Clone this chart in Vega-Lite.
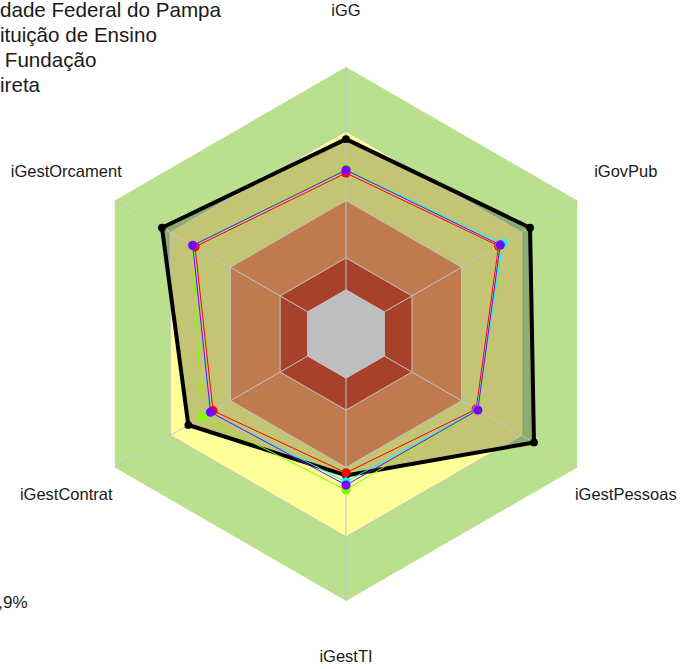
{
  "$schema": "https://vega.github.io/schema/vega-lite/v6.json",
  "width": 680,
  "height": 669,
  "autosize": {"type": "none"},
  "padding": 0,
  "background": "white",
  "config": {"view": {"stroke": null}, "text": {"font": "Liberation Sans"}},
  "datasets": {
    "eixos": [
      {"eixo": "iGG", "ordem": 0},
      {"eixo": "iGovPub", "ordem": 1},
      {"eixo": "iGestPessoas", "ordem": 2},
      {"eixo": "iGestTI", "ordem": 3},
      {"eixo": "iGestContrat", "ordem": 4},
      {"eixo": "iGestOrcament", "ordem": 5}
    ],
    "faixas": [
      {"faixa": "verde", "eixo": "iGG", "limite": 100},
      {"faixa": "verde", "eixo": "iGovPub", "limite": 100},
      {"faixa": "verde", "eixo": "iGestPessoas", "limite": 100},
      {"faixa": "verde", "eixo": "iGestTI", "limite": 100},
      {"faixa": "verde", "eixo": "iGestContrat", "limite": 100},
      {"faixa": "verde", "eixo": "iGestOrcament", "limite": 100},
      {"faixa": "amarelo", "eixo": "iGG", "limite": 76},
      {"faixa": "amarelo", "eixo": "iGovPub", "limite": 76},
      {"faixa": "amarelo", "eixo": "iGestPessoas", "limite": 76},
      {"faixa": "amarelo", "eixo": "iGestTI", "limite": 76},
      {"faixa": "amarelo", "eixo": "iGestContrat", "limite": 76},
      {"faixa": "amarelo", "eixo": "iGestOrcament", "limite": 76},
      {"faixa": "laranja", "eixo": "iGG", "limite": 50},
      {"faixa": "laranja", "eixo": "iGovPub", "limite": 50},
      {"faixa": "laranja", "eixo": "iGestPessoas", "limite": 50},
      {"faixa": "laranja", "eixo": "iGestTI", "limite": 50},
      {"faixa": "laranja", "eixo": "iGestContrat", "limite": 50},
      {"faixa": "laranja", "eixo": "iGestOrcament", "limite": 50},
      {"faixa": "vermelho", "eixo": "iGG", "limite": 28.5},
      {"faixa": "vermelho", "eixo": "iGovPub", "limite": 28.5},
      {"faixa": "vermelho", "eixo": "iGestPessoas", "limite": 28.5},
      {"faixa": "vermelho", "eixo": "iGestTI", "limite": 28.5},
      {"faixa": "vermelho", "eixo": "iGestContrat", "limite": 28.5},
      {"faixa": "vermelho", "eixo": "iGestOrcament", "limite": 28.5},
      {"faixa": "cinza", "eixo": "iGG", "limite": 16.5},
      {"faixa": "cinza", "eixo": "iGovPub", "limite": 16.5},
      {"faixa": "cinza", "eixo": "iGestPessoas", "limite": 16.5},
      {"faixa": "cinza", "eixo": "iGestTI", "limite": 16.5},
      {"faixa": "cinza", "eixo": "iGestContrat", "limite": 16.5},
      {"faixa": "cinza", "eixo": "iGestOrcament", "limite": 16.5}
    ],
    "series": [
      {"serie": "Universidade Federal do Pampa", "eixo": "iGG", "valor": 73.0},
      {"serie": "Universidade Federal do Pampa", "eixo": "iGovPub", "valor": 79.6},
      {"serie": "Universidade Federal do Pampa", "eixo": "iGestPessoas", "valor": 81.3},
      {"serie": "Universidade Federal do Pampa", "eixo": "iGestTI", "valor": 53.0},
      {"serie": "Universidade Federal do Pampa", "eixo": "iGestContrat", "valor": 68.2},
      {"serie": "Universidade Federal do Pampa", "eixo": "iGestOrcament", "valor": 79.6},
      {"serie": "Referência 1", "eixo": "iGG", "valor": 60.3},
      {"serie": "Referência 1", "eixo": "iGovPub", "valor": 66.0},
      {"serie": "Referência 1", "eixo": "iGestPessoas", "valor": 56.3},
      {"serie": "Referência 1", "eixo": "iGestTI", "valor": 52.0},
      {"serie": "Referência 1", "eixo": "iGestContrat", "valor": 57.5},
      {"serie": "Referência 1", "eixo": "iGestOrcament", "valor": 65.3},
      {"serie": "Referência 2", "eixo": "iGG", "valor": 62.2},
      {"serie": "Referência 2", "eixo": "iGovPub", "valor": 66.5},
      {"serie": "Referência 2", "eixo": "iGestPessoas", "valor": 57.2},
      {"serie": "Referência 2", "eixo": "iGestTI", "valor": 58.4},
      {"serie": "Referência 2", "eixo": "iGestContrat", "valor": 62.2},
      {"serie": "Referência 2", "eixo": "iGestOrcament", "valor": 66.5},
      {"serie": "Referência 3", "eixo": "iGG", "valor": 61.4},
      {"serie": "Referência 3", "eixo": "iGovPub", "valor": 67.8},
      {"serie": "Referência 3", "eixo": "iGestPessoas", "valor": 56.7},
      {"serie": "Referência 3", "eixo": "iGestTI", "valor": 55.4},
      {"serie": "Referência 3", "eixo": "iGestContrat", "valor": 58.8},
      {"serie": "Referência 3", "eixo": "iGestOrcament", "valor": 66.2},
      {"serie": "Referência 4", "eixo": "iGG", "valor": 61.4},
      {"serie": "Referência 4", "eixo": "iGovPub", "valor": 66.7},
      {"serie": "Referência 4", "eixo": "iGestPessoas", "valor": 57.0},
      {"serie": "Referência 4", "eixo": "iGestTI", "valor": 56.6},
      {"serie": "Referência 4", "eixo": "iGestContrat", "valor": 58.6},
      {"serie": "Referência 4", "eixo": "iGestOrcament", "valor": 66.3}
    ]
  },
  "layer": [
    {
      "data": {"name": "faixas"},
      "transform": [
        {"filter": "datum.faixa == 'verde'"},
        {"lookup": "eixo", "from": {"data": {"name": "eixos"}, "key": "eixo", "fields": ["ordem"]}},
        {"calculate": "datum.limite*sin(datum.ordem*PI/3)", "as": "x"},
        {"calculate": "datum.limite*cos(datum.ordem*PI/3)", "as": "y"}
      ],
      "mark": {"type": "line", "interpolate": "linear-closed", "fill": "#B9E08C", "strokeWidth": 0},
      "encoding": {
        "x": {"field": "x", "type": "quantitative", "scale": {"domain": [-129.6, 125.1], "nice": false, "zero": false}, "axis": null},
        "y": {"field": "y", "type": "quantitative", "scale": {"domain": [-125.5, 125.1], "nice": false, "zero": false}, "axis": null},
        "order": {"field": "ordem", "type": "quantitative"}
      }
    },
    {
      "data": {"name": "faixas"},
      "transform": [
        {"filter": "datum.faixa == 'amarelo'"},
        {"lookup": "eixo", "from": {"data": {"name": "eixos"}, "key": "eixo", "fields": ["ordem"]}},
        {"calculate": "datum.limite*sin(datum.ordem*PI/3)", "as": "x"},
        {"calculate": "datum.limite*cos(datum.ordem*PI/3)", "as": "y"}
      ],
      "mark": {"type": "line", "interpolate": "linear-closed", "fill": "#FFFF99", "strokeWidth": 0},
      "encoding": {
        "x": {"field": "x", "type": "quantitative", "scale": {"domain": [-129.6, 125.1], "nice": false, "zero": false}, "axis": null},
        "y": {"field": "y", "type": "quantitative", "scale": {"domain": [-125.5, 125.1], "nice": false, "zero": false}, "axis": null},
        "order": {"field": "ordem", "type": "quantitative"}
      }
    },
    {
      "data": {"name": "series"},
      "transform": [
        {"filter": "datum.serie == 'Universidade Federal do Pampa'"},
        {"lookup": "eixo", "from": {"data": {"name": "eixos"}, "key": "eixo", "fields": ["ordem"]}},
        {"calculate": "datum.valor*sin(datum.ordem*PI/3)", "as": "x"},
        {"calculate": "datum.valor*cos(datum.ordem*PI/3)", "as": "y"}
      ],
      "mark": {"type": "line", "interpolate": "linear-closed", "fill": "#000000", "fillOpacity": 0.23, "strokeWidth": 0},
      "encoding": {
        "x": {"field": "x", "type": "quantitative", "scale": {"domain": [-129.6, 125.1], "nice": false, "zero": false}, "axis": null},
        "y": {"field": "y", "type": "quantitative", "scale": {"domain": [-125.5, 125.1], "nice": false, "zero": false}, "axis": null},
        "order": {"field": "ordem", "type": "quantitative"}
      }
    },
    {
      "data": {"name": "faixas"},
      "transform": [
        {"filter": "datum.faixa == 'laranja'"},
        {"lookup": "eixo", "from": {"data": {"name": "eixos"}, "key": "eixo", "fields": ["ordem"]}},
        {"calculate": "datum.limite*sin(datum.ordem*PI/3)", "as": "x"},
        {"calculate": "datum.limite*cos(datum.ordem*PI/3)", "as": "y"}
      ],
      "mark": {"type": "line", "interpolate": "linear-closed", "fill": "#BF7A50", "strokeWidth": 0},
      "encoding": {
        "x": {"field": "x", "type": "quantitative", "scale": {"domain": [-129.6, 125.1], "nice": false, "zero": false}, "axis": null},
        "y": {"field": "y", "type": "quantitative", "scale": {"domain": [-125.5, 125.1], "nice": false, "zero": false}, "axis": null},
        "order": {"field": "ordem", "type": "quantitative"}
      }
    },
    {
      "data": {"name": "faixas"},
      "transform": [
        {"filter": "datum.faixa == 'vermelho'"},
        {"lookup": "eixo", "from": {"data": {"name": "eixos"}, "key": "eixo", "fields": ["ordem"]}},
        {"calculate": "datum.limite*sin(datum.ordem*PI/3)", "as": "x"},
        {"calculate": "datum.limite*cos(datum.ordem*PI/3)", "as": "y"}
      ],
      "mark": {"type": "line", "interpolate": "linear-closed", "fill": "#A8412B", "strokeWidth": 0},
      "encoding": {
        "x": {"field": "x", "type": "quantitative", "scale": {"domain": [-129.6, 125.1], "nice": false, "zero": false}, "axis": null},
        "y": {"field": "y", "type": "quantitative", "scale": {"domain": [-125.5, 125.1], "nice": false, "zero": false}, "axis": null},
        "order": {"field": "ordem", "type": "quantitative"}
      }
    },
    {
      "data": {"name": "faixas"},
      "transform": [
        {"filter": "datum.faixa == 'cinza'"},
        {"lookup": "eixo", "from": {"data": {"name": "eixos"}, "key": "eixo", "fields": ["ordem"]}},
        {"calculate": "datum.limite*sin(datum.ordem*PI/3)", "as": "x"},
        {"calculate": "datum.limite*cos(datum.ordem*PI/3)", "as": "y"},
        {"calculate": "100*sin(datum.ordem*PI/3)", "as": "xf"},
        {"calculate": "100*cos(datum.ordem*PI/3)", "as": "yf"}
      ],
      "mark": {"type": "rule", "stroke": "#C4C4C4", "strokeWidth": 1},
      "encoding": {
        "x": {"field": "x", "type": "quantitative", "scale": {"domain": [-129.6, 125.1], "nice": false, "zero": false}, "axis": null},
        "y": {"field": "y", "type": "quantitative", "scale": {"domain": [-125.5, 125.1], "nice": false, "zero": false}, "axis": null},
        "x2": {"field": "xf"},
        "y2": {"field": "yf"}
      }
    },
    {
      "data": {"name": "faixas"},
      "transform": [
        {"filter": "datum.faixa != 'verde'"},
        {"lookup": "eixo", "from": {"data": {"name": "eixos"}, "key": "eixo", "fields": ["ordem"]}},
        {"calculate": "datum.limite*sin(datum.ordem*PI/3)", "as": "x"},
        {"calculate": "datum.limite*cos(datum.ordem*PI/3)", "as": "y"}
      ],
      "mark": {"type": "line", "interpolate": "linear-closed", "stroke": "#C4C4C4", "strokeWidth": 1},
      "encoding": {
        "x": {"field": "x", "type": "quantitative", "scale": {"domain": [-129.6, 125.1], "nice": false, "zero": false}, "axis": null},
        "y": {"field": "y", "type": "quantitative", "scale": {"domain": [-125.5, 125.1], "nice": false, "zero": false}, "axis": null},
        "detail": {"field": "faixa"},
        "order": {"field": "ordem", "type": "quantitative"}
      }
    },
    {
      "data": {"name": "faixas"},
      "transform": [
        {"filter": "datum.faixa == 'cinza'"},
        {"lookup": "eixo", "from": {"data": {"name": "eixos"}, "key": "eixo", "fields": ["ordem"]}},
        {"calculate": "datum.limite*sin(datum.ordem*PI/3)", "as": "x"},
        {"calculate": "datum.limite*cos(datum.ordem*PI/3)", "as": "y"}
      ],
      "mark": {"type": "line", "interpolate": "linear-closed", "fill": "#BEBEBE", "stroke": "#C4C4C4", "strokeWidth": 1},
      "encoding": {
        "x": {"field": "x", "type": "quantitative", "scale": {"domain": [-129.6, 125.1], "nice": false, "zero": false}, "axis": null},
        "y": {"field": "y", "type": "quantitative", "scale": {"domain": [-125.5, 125.1], "nice": false, "zero": false}, "axis": null},
        "order": {"field": "ordem", "type": "quantitative"}
      }
    },
    {
      "data": {"name": "series"},
      "transform": [
        {"filter": "datum.serie == 'Universidade Federal do Pampa'"},
        {"lookup": "eixo", "from": {"data": {"name": "eixos"}, "key": "eixo", "fields": ["ordem"]}},
        {"calculate": "datum.valor*sin(datum.ordem*PI/3)", "as": "x"},
        {"calculate": "datum.valor*cos(datum.ordem*PI/3)", "as": "y"}
      ],
      "mark": {"type": "line", "interpolate": "linear-closed", "stroke": "#000000", "strokeWidth": 4, "strokeJoin": "round"},
      "encoding": {
        "x": {"field": "x", "type": "quantitative", "scale": {"domain": [-129.6, 125.1], "nice": false, "zero": false}, "axis": null},
        "y": {"field": "y", "type": "quantitative", "scale": {"domain": [-125.5, 125.1], "nice": false, "zero": false}, "axis": null},
        "order": {"field": "ordem", "type": "quantitative"}
      }
    },
    {
      "data": {"name": "series"},
      "transform": [
        {"filter": "datum.serie == 'Universidade Federal do Pampa'"},
        {"lookup": "eixo", "from": {"data": {"name": "eixos"}, "key": "eixo", "fields": ["ordem"]}},
        {"calculate": "datum.valor*sin(datum.ordem*PI/3)", "as": "x"},
        {"calculate": "datum.valor*cos(datum.ordem*PI/3)", "as": "y"}
      ],
      "mark": {"type": "point", "filled": true, "fill": "#000000", "size": 60, "opacity": 1},
      "encoding": {
        "x": {"field": "x", "type": "quantitative", "scale": {"domain": [-129.6, 125.1], "nice": false, "zero": false}, "axis": null},
        "y": {"field": "y", "type": "quantitative", "scale": {"domain": [-125.5, 125.1], "nice": false, "zero": false}, "axis": null}
      }
    },
    {
      "data": {"name": "series"},
      "transform": [
        {"filter": "datum.serie != 'Universidade Federal do Pampa'"},
        {"lookup": "eixo", "from": {"data": {"name": "eixos"}, "key": "eixo", "fields": ["ordem"]}},
        {"calculate": "datum.valor*sin(datum.ordem*PI/3)", "as": "x"},
        {"calculate": "datum.valor*cos(datum.ordem*PI/3)", "as": "y"}
      ],
      "mark": {"type": "line", "interpolate": "linear-closed", "strokeWidth": 1},
      "encoding": {
        "x": {"field": "x", "type": "quantitative", "scale": {"domain": [-129.6, 125.1], "nice": false, "zero": false}, "axis": null},
        "y": {"field": "y", "type": "quantitative", "scale": {"domain": [-125.5, 125.1], "nice": false, "zero": false}, "axis": null},
        "color": {"field": "serie", "type": "nominal", "scale": {"domain": ["Referência 1", "Referência 2", "Referência 3", "Referência 4"], "range": ["#FF0000", "#80FF00", "#00FFFF", "#8000FF"]}, "legend": null},
        "order": {"field": "ordem", "type": "quantitative"}
      }
    },
    {
      "data": {"name": "series"},
      "transform": [
        {"filter": "datum.serie != 'Universidade Federal do Pampa'"},
        {"lookup": "eixo", "from": {"data": {"name": "eixos"}, "key": "eixo", "fields": ["ordem"]}},
        {"calculate": "datum.valor*sin(datum.ordem*PI/3)", "as": "x"},
        {"calculate": "datum.valor*cos(datum.ordem*PI/3)", "as": "y"}
      ],
      "mark": {"type": "point", "filled": true, "size": 85, "opacity": 1},
      "encoding": {
        "x": {"field": "x", "type": "quantitative", "scale": {"domain": [-129.6, 125.1], "nice": false, "zero": false}, "axis": null},
        "y": {"field": "y", "type": "quantitative", "scale": {"domain": [-125.5, 125.1], "nice": false, "zero": false}, "axis": null},
        "color": {"field": "serie", "type": "nominal", "scale": {"domain": ["Referência 1", "Referência 2", "Referência 3", "Referência 4"], "range": ["#FF0000", "#80FF00", "#00FFFF", "#8000FF"]}, "legend": null}
      }
    },
    {
      "data": {"name": "eixos"},
      "transform": [
        {"calculate": "121*sin(datum.ordem*PI/3)", "as": "x"},
        {"calculate": "121*cos(datum.ordem*PI/3)", "as": "y"}
      ],
      "mark": {"type": "text", "fontSize": 16.5, "align": "center", "baseline": "middle", "fill": "#1A1A1A"},
      "encoding": {
        "x": {"field": "x", "type": "quantitative", "scale": {"domain": [-129.6, 125.1], "nice": false, "zero": false}, "axis": null},
        "y": {"field": "y", "type": "quantitative", "scale": {"domain": [-125.5, 125.1], "nice": false, "zero": false}, "axis": null},
        "text": {"field": "eixo"}
      }
    },
    {
      "data": {"values": [{}]},
      "mark": {"type": "text", "fontSize": 20.6, "align": "left", "baseline": "alphabetic", "lineHeight": 25, "fill": "#1A1A1A",
        "text": ["dade Federal do Pampa", "ituição de Ensino"]},
      "encoding": {
        "x": {"datum": -129.6, "type": "quantitative", "scale": {"domain": [-129.6, 125.1], "nice": false, "zero": false}, "axis": null},
        "y": {"datum": 118.6, "type": "quantitative", "scale": {"domain": [-125.5, 125.1], "nice": false, "zero": false}, "axis": null}
      }
    },
    {
      "data": {"values": [{}]},
      "mark": {"type": "text", "fontSize": 20.6, "align": "left", "baseline": "alphabetic", "fill": "#1A1A1A", "text": "Fundação"},
      "encoding": {
        "x": {"datum": -127.8, "type": "quantitative", "scale": {"domain": [-129.6, 125.1], "nice": false, "zero": false}, "axis": null},
        "y": {"datum": 99.87, "type": "quantitative", "scale": {"domain": [-125.5, 125.1], "nice": false, "zero": false}, "axis": null}
      }
    },
    {
      "data": {"values": [{}]},
      "mark": {"type": "text", "fontSize": 20.6, "align": "left", "baseline": "alphabetic", "fill": "#1A1A1A", "text": "ireta"},
      "encoding": {
        "x": {"datum": -129.6, "type": "quantitative", "scale": {"domain": [-129.6, 125.1], "nice": false, "zero": false}, "axis": null},
        "y": {"datum": 90.5, "type": "quantitative", "scale": {"domain": [-125.5, 125.1], "nice": false, "zero": false}, "axis": null}
      }
    },
    {
      "data": {"values": [{}]},
      "mark": {"type": "text", "fontSize": 17, "align": "right", "baseline": "alphabetic", "fill": "#1A1A1A", "text": ",9%"},
      "encoding": {
        "x": {"datum": -119.3, "type": "quantitative", "scale": {"domain": [-129.6, 125.1], "nice": false, "zero": false}, "axis": null},
        "y": {"datum": -102.65, "type": "quantitative", "scale": {"domain": [-125.5, 125.1], "nice": false, "zero": false}, "axis": null}
      }
    }
  ]
}
